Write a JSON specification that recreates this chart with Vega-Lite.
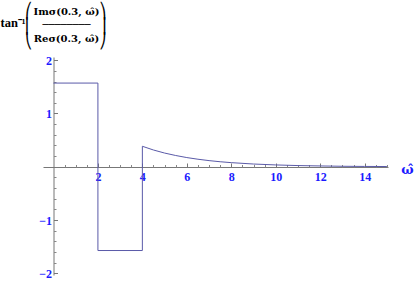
{
  "$schema": "https://vega.github.io/schema/vega-lite/v6.json",
  "width": 345,
  "height": 218,
  "autosize": "none",
  "padding": {"left": 43, "top": 57, "right": 27, "bottom": 7},
  "background": "white",
  "config": {"view": {"stroke": null}},
  "data": {"values": [
    {"i": 0, "w": 0, "v": 1.5708},
    {"i": 1, "w": 2, "v": 1.5708},
    {"i": 2, "w": 2, "v": -1.5708},
    {"i": 3, "w": 4, "v": -1.5708},
    {"i": 4, "w": 4, "v": 0.385},
    {"i": 5, "w": 4.5, "v": 0.315},
    {"i": 6, "w": 5, "v": 0.258},
    {"i": 7, "w": 5.5, "v": 0.212},
    {"i": 8, "w": 6, "v": 0.173},
    {"i": 9, "w": 6.5, "v": 0.142},
    {"i": 10, "w": 7, "v": 0.116},
    {"i": 11, "w": 7.5, "v": 0.095},
    {"i": 12, "w": 8, "v": 0.078},
    {"i": 13, "w": 9, "v": 0.052},
    {"i": 14, "w": 10, "v": 0.035},
    {"i": 15, "w": 11, "v": 0.023},
    {"i": 16, "w": 12, "v": 0.016},
    {"i": 17, "w": 13, "v": 0.01},
    {"i": 18, "w": 14, "v": 0.007},
    {"i": 19, "w": 15, "v": 0.005}
  ]},
  "layer": [
    {
      "mark": {"type": "line", "color": "#5a5aa8", "strokeWidth": 1},
      "encoding": {
        "x": {"field": "w", "type": "quantitative",
          "scale": {"domain": [-0.47, 15.05], "nice": false, "zero": false},
          "axis": {"orient": "bottom", "offset": -108, "values": [2, 4, 6, 8, 10, 12, 14],
            "tickSize": -4, "tickColor": "#777777", "domainColor": "#777777", "grid": false,
            "labelColor": "#1a1aff", "labelFont": "Liberation Serif", "labelFontWeight": "bold", "labelFontSize": 12, "labelPadding": 8,
            "title": "ω̂", "titleX": 364, "titleY": 2, "titleAngle": 0, "titleAlign": "center", "titleBaseline": "middle",
            "titleFont": "DejaVu Serif", "titleFontSize": 13, "titleFontWeight": "bold", "titleColor": "#1a1aff"}},
        "y": {"field": "v", "type": "quantitative",
          "scale": {"domain": [-2.03, 2.06], "nice": false, "zero": false},
          "axis": {"orient": "left", "offset": -10.5, "values": [-2, -1, 1, 2],
            "tickSize": -4, "tickColor": "#777777", "domainColor": "#777777", "grid": false,
            "labelColor": "#1a1aff", "labelFont": "Liberation Serif", "labelFontWeight": "bold", "labelFontSize": 12, "labelPadding": 6,
            "labelExpr": "datum.value < 0 ? '−' + abs(datum.value) : datum.label",
            "title": "tan⁻¹", "titleX": -53.5, "titleY": -35, "titleAngle": 0, "titleAlign": "left", "titleBaseline": "middle",
            "titleFont": "Liberation Serif", "titleFontSize": 12.5, "titleFontWeight": "bold", "titleColor": "#000000"}},
        "order": {"field": "i", "type": "quantitative"}
      }
    },
    {
      "mark": {"type": "line", "opacity": 0},
      "encoding": {
        "x": {"field": "w", "type": "quantitative",
          "axis": {"orient": "bottom", "offset": -108,
            "values": [0.5, 1, 1.5, 2.5, 3, 3.5, 4.5, 5, 5.5, 6.5, 7, 7.5, 8.5, 9, 9.5, 10.5, 11, 11.5, 12.5, 13, 13.5, 14.5, 15],
            "tickSize": -2.5, "tickColor": "#888888", "domain": false, "labels": false, "grid": false,
            "title": ["⎛\u00a0\u00a0\u00a0\u00a0\u00a0\u00a0\u00a0\u00a0\u00a0\u00a0\u00a0\u00a0\u00a0\u00a0⎞", "⎜\u00a0\u00a0\u00a0\u00a0\u00a0\u00a0\u00a0\u00a0\u00a0\u00a0\u00a0\u00a0\u00a0\u00a0⎟", "⎝\u00a0\u00a0\u00a0\u00a0\u00a0\u00a0\u00a0\u00a0\u00a0\u00a0\u00a0\u00a0\u00a0\u00a0⎠"],
            "titleX": 22, "titleY": -157, "titleAngle": 0, "titleAlign": "center", "titleBaseline": "middle",
            "titleFont": "DejaVu Sans", "titleFontSize": 15, "titleFontWeight": "normal", "titleLineHeight": 15, "titleColor": "#000000"}},
        "y": {"field": "v", "type": "quantitative",
          "axis": {"orient": "left", "offset": -10.5,
            "values": [-1.8, -1.6, -1.4, -1.2, -0.8, -0.6, -0.4, -0.2, 0.2, 0.4, 0.6, 0.8, 1.2, 1.4, 1.6, 1.8],
            "tickSize": -2.5, "tickColor": "#888888", "domain": false, "labels": false, "grid": false,
            "title": ["Imσ(0.3, ω̂)", "────────", "Reσ(0.3, ω̂)"],
            "titleX": 12.5, "titleY": -46, "titleAngle": 0, "titleAlign": "center", "titleBaseline": "middle",
            "titleFont": "DejaVu Serif", "titleFontSize": 10, "titleFontWeight": "bold", "titleLineHeight": 13.5, "titleColor": "#000000"}},
        "order": {"field": "i", "type": "quantitative"}
      }
    }
  ],
  "resolve": {"axis": {"x": "independent", "y": "independent"}}
}
